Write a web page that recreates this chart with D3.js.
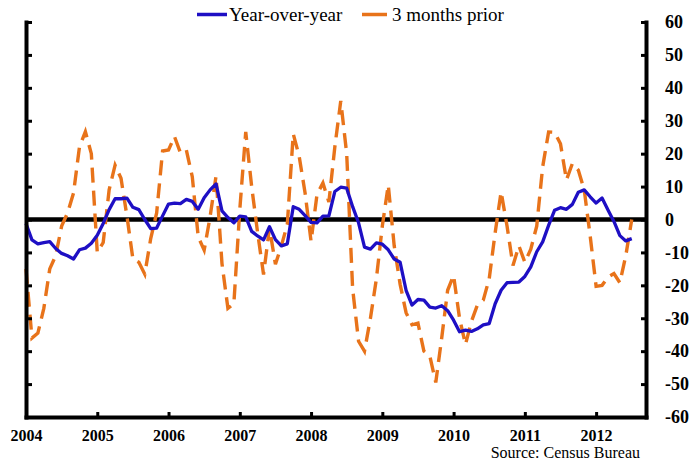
<!DOCTYPE html>
<html><head><meta charset="utf-8">
<script src="https://cdn.jsdelivr.net/npm/d3@7"></script>
<style>body{margin:0;background:#fff}svg{display:block}</style>
</head><body><svg id="c" width="700" height="461"></svg>
<script>
// ---- data (monthly, Jan 2004 .. Jul 2012) ----
const startYear = 2004;
const seriesNames = ["Year-over-year", "3 months prior"];
const yearTicks = [2004, 2005, 2006, 2007, 2008, 2009, 2010, 2011, 2012];
const valueTicks = [60, 50, 40, 30, 20, 10, 0, -10, -20, -30, -40, -50, -60];
const yearOverYear = [
  -1.2, -6.2, -7.4, -7, -6.7, -8.8, -10.3, -11, -12, -9.2,
  -8.7, -7.2, -4.8, -1.2, 3, 6.3, 6.3, 6.5, 3.7, 3,
  0, -2.8, -2.6, 1.1, 4.7, 5, 4.8, 6.1, 5.5, 3.1,
  6.6, 9, 10.8, 2.6, 0.6, -1, 1, 0.8, -3.6, -5,
  -6.2, -2.2, -6.1, -8, -7.4, 3.9, 3.1, 1.2, -0.9, -1,
  1, 1.1, 8.5, 9.8, 9.5, 3.9, -1, -8.4, -9, -7.1,
  -7.5, -9.2, -12, -13, -21.5, -26, -24.3, -24.5, -26.6, -26.9,
  -26.2, -27.7, -30.6, -34.1, -33.6, -34, -33.2, -32, -31.6, -25.6,
  -21.5, -19.2, -19.1, -19, -17.3, -14.4, -9.8, -6.8, -1.8, 2.8,
  3.6, 3.1, 4.6, 8.3, 9, 6.9, 5, 6.5, 2.9, -0.6,
  -4.9, -6.5, -5.8
];
const threeMonthsPrior = [
  -15, -36, -34.5, -27, -15, -11, -2, 2, 8, 22,
  26.7, 20, -10, -7, 9, 16.5, 12.5, 1, -12, -13,
  -16.6, -5.8, 2, 20.8, 21.1, 25.2, 20.3, 21.1, 13, -5.3,
  -9.3, 0.8, 13.2, -13.4, -27, -25.6, 3, 26.6, 10, -4,
  -16.7, -2.5, -13.6, -8, -1.5, 26, 19.2, 8, -6.6, 7.6,
  11.1, 5.3, 22, 36, 20, -21, -37, -40, -30, -18,
  -2, 10.5, -8, -19.7, -28.3, -32, -31.5, -40, -41.5, -49.5,
  -36, -21.5, -17, -30, -38, -31, -26, -24.5, -18, -4,
  8.4, -2, -14, -8, -13, -9, -2, 16, 26.6, 26.5,
  23, 12, 17, 15, 9, -5, -20.3, -20, -17.5, -16.4,
  -19.2, -11, 0
];
const sourceText = "Source: Census Bureau";

// ---- chart ----
const blue = "#1e0fc4", orange = "#e8731a";
const svg = d3.select("#c");
const x = d3.scaleLinear().domain([2004, 2004 + 104.4 / 12]).range([26, 646]);
const y = d3.scaleLinear().domain([-60, 60]).range([417, 22]);
const fontAxis = "'Liberation Serif','Times New Roman',serif";

const pts = arr => arr.map((v, i) => [startYear + i / 12, v]);
const line = d3.line().x(d => x(d[0])).y(d => y(d[1]));

// zero line
svg.append("line").attr("x1", x.range()[0]).attr("x2", x.range()[1])
  .attr("y1", y(0)).attr("y2", y(0)).attr("stroke", "#000").attr("stroke-width", 4.5);

// series
svg.append("path").datum(pts(threeMonthsPrior)).attr("d", line)
  .attr("fill", "none").attr("stroke", orange).attr("stroke-width", 3.4)
  .attr("stroke-dasharray", "15,8");
svg.append("path").datum(pts(yearOverYear)).attr("d", line)
  .attr("fill", "none").attr("stroke", blue).attr("stroke-width", 3.3)
  .attr("stroke-linejoin", "round");

function styleAxis(g) {
  g.select(".domain").attr("stroke", "#000").attr("stroke-width", 4).attr("stroke-linecap", "square");
  g.selectAll(".tick line").attr("stroke", "#000").attr("stroke-width", 3);
}

// left axis (ticks inward, no labels)
svg.append("g").attr("transform", `translate(${x.range()[0]},0)`)
  .call(d3.axisRight(y).tickValues(valueTicks).tickSize(6).tickSizeOuter(0).tickFormat(""))
  .call(styleAxis);
// right axis (ticks inward)
svg.append("g").attr("transform", `translate(${x.range()[1]},0)`)
  .call(d3.axisLeft(y).tickValues(valueTicks).tickSize(5).tickSizeOuter(0).tickFormat(""))
  .call(styleAxis);
// right labels
const rl = svg.append("g").attr("transform", `translate(${x.range()[1]},0)`)
  .call(d3.axisRight(y).tickValues(valueTicks).tickSize(0).tickPadding(19).tickFormat(d => d));
rl.select(".domain").remove();
rl.selectAll("text").attr("font-family", fontAxis).attr("font-weight", "bold")
  .attr("font-size", 18).attr("fill", "#000");

// bottom axis (ticks upward)
svg.append("g").attr("transform", `translate(0,${y.range()[0]})`)
  .call(d3.axisTop(x).tickValues(yearTicks).tickSize(5).tickSizeOuter(0).tickFormat(""))
  .call(styleAxis);
const bl = svg.append("g").attr("transform", `translate(0,${y.range()[0]})`)
  .call(d3.axisBottom(x).tickValues(yearTicks).tickSize(0).tickPadding(13).tickFormat(d3.format("d")));
bl.select(".domain").remove();
bl.selectAll("text").attr("font-family", fontAxis).attr("font-weight", "bold")
  .attr("font-size", 16).attr("fill", "#000");

// legend
const legend = [
  {name: seriesNames[0], color: blue, x1: 197, x2: 227, tx: 229},
  {name: seriesNames[1], color: orange, x1: 362, x2: 387, tx: 392}
];
legend.forEach(l => {
  svg.append("line").attr("x1", l.x1).attr("x2", l.x2).attr("y1", 14.5).attr("y2", 14.5)
    .attr("stroke", l.color).attr("stroke-width", 3.5);
  svg.append("text").attr("x", l.tx).attr("y", 20.5).text(l.name)
    .attr("font-family", fontAxis).attr("font-size", 19).attr("fill", "#000");
});

// source
svg.append("text").attr("x", 640).attr("y", 457.5).attr("text-anchor", "end")
  .text(sourceText).attr("font-family", fontAxis).attr("font-size", 16).attr("fill", "#000");
</script>
</body></html>
